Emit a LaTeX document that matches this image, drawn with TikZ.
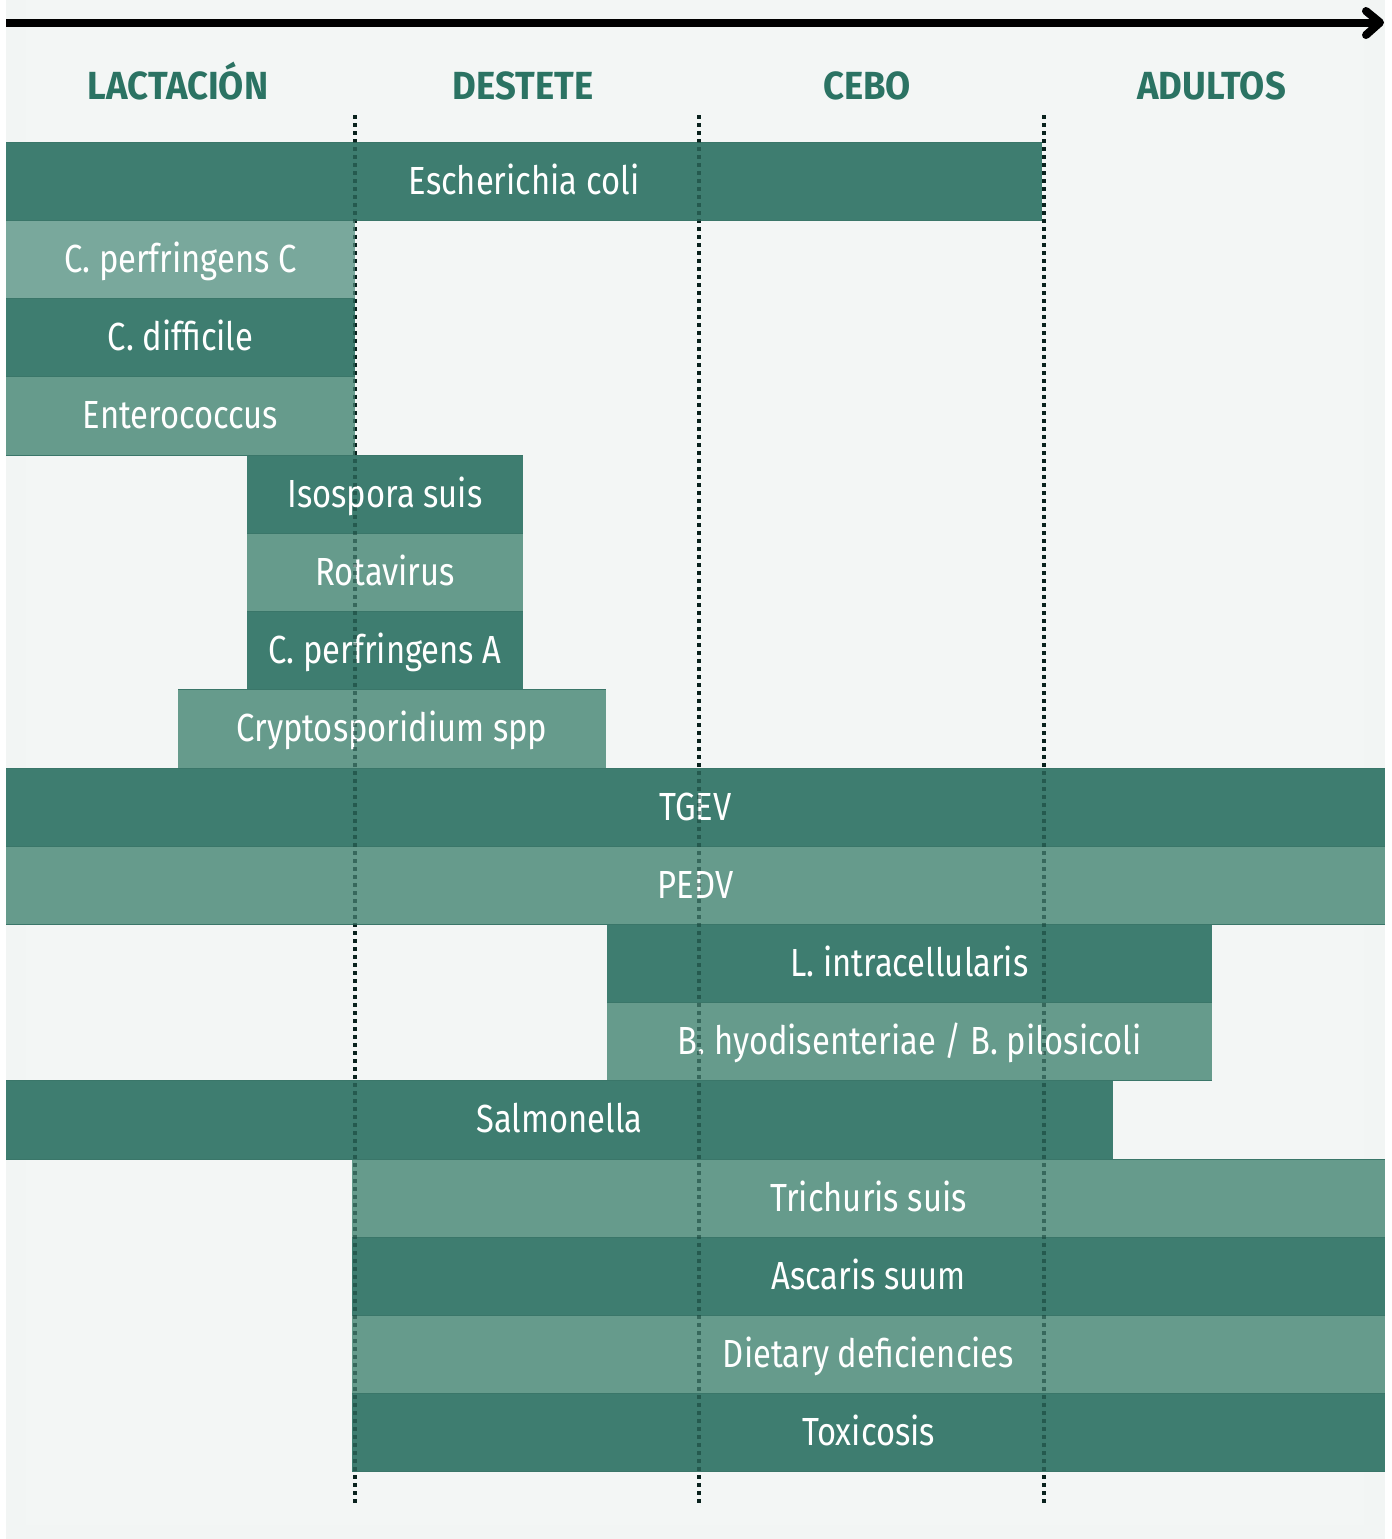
\documentclass[tikz,border=0pt]{standalone}
\usepackage{fontspec}
\newfontfamily\bodyf{Fira Sans}[FakeStretch=0.835]
\newfontfamily\hdrf{Fira Sans}[FakeStretch=0.93]
\definecolor{bgcol}{HTML}{F2F5F4}
\definecolor{bgin}{HTML}{F3F6F5}
\definecolor{dkgreen}{HTML}{3E7D70}
\definecolor{mdgreen}{HTML}{669B8C}
\definecolor{ltgreen}{HTML}{79A89C}
\definecolor{bordercol}{HTML}{3A7669}
\definecolor{hdrcol}{HTML}{2B7363}
\definecolor{dotover}{HTML}{123F35}
\newcommand\dzbar[7]{%
  \node[#6, minimum width={0.5pt*(#4-#2)}, minimum height={0.5pt*(#5-#3)}] (#1) at ({(#2+#4)/2},{(#3+#5)/2}) {#7};
  \draw[rowline] (#1.north west) -- (#1.north east) (#1.south west) -- (#1.south east);}
\tikzset{
  barbase/.style={draw=none, inner sep=0pt, outer sep=0pt, text=white,
    font=\bodyf\fontsize{19.6}{24}\selectfont, text height=17pt, text depth=4pt},
  darkbar/.style={barbase, fill=dkgreen},
  midbar/.style={barbase, fill=mdgreen},
  lightbar/.style={barbase, fill=ltgreen},
  rowline/.style={draw=bordercol, line width=0.4pt},
  hdr/.style={anchor=base, inner sep=0pt, text=hdrcol, font=\hdrf\bfseries\fontsize{19.6}{24}\selectfont},
  dotline/.style={line width=2pt, dash pattern=on 2pt off 2pt},
  axisline/.style={line width=4pt},
}
\begin{document}
\begin{tikzpicture}[x=0.5pt,y=-0.5pt]
\useasboundingbox (0,0) rectangle (1392,1539);
\fill[white] (0,0) rectangle (1392,1539);
\fill[bgcol] (6,0) rectangle (1385,1539);
\fill[bgin] (26,0) rectangle (1364,1525);
% time axis
\coordinate (axL) at (6,22.5);
\coordinate (axR) at (1380,22.5);
\coordinate (chT) at (1366,11);
\coordinate (chB) at (1366,35);
\draw[axisline] (axL) -- (axR);
\draw[axisline, line cap=round, line join=round] (chT) -- (axR) -- (chB);
% headers
\node[hdr] (hLac) at (178,99) {LACTACIÓN};
\node[hdr] (hDes) at (523,99) {DESTETE};
\node[hdr] (hCeb) at (867,99) {CEBO};
\node[hdr] (hAdu) at (1211.5,99) {ADULTOS};
% dotted separators (under)
\coordinate (d1t) at (354.5,115); \coordinate (d1b) at (354.5,1503);
\coordinate (d2t) at (699,115);   \coordinate (d2b) at (699,1503);
\coordinate (d3t) at (1043.5,115); \coordinate (d3b) at (1043.5,1503);
\draw[dotline] (d1t) -- (d1b);
\draw[dotline] (d2t) -- (d2b);
\draw[dotline] (d3t) -- (d3b);
% bars
\dzbar{ecoli}{6}{142}{1042}{220}{darkbar}{Escherichia coli}
\dzbar{cpc}{6}{220}{355}{298}{lightbar}{C. perfringens C}
\dzbar{cdiff}{6}{298}{355}{376}{darkbar}{C. difficile}
\dzbar{entero}{6}{376}{355}{455}{midbar}{Enterococcus}
\dzbar{iso}{247}{455}{523}{533}{darkbar}{Isospora suis}
\dzbar{rota}{247}{533}{523}{611}{midbar}{Rotavirus}
\dzbar{cpa}{247}{611}{523}{689}{darkbar}{C. perfringens A}
\dzbar{crypto}{178}{689}{606}{768}{midbar}{Cryptosporidium spp}
\dzbar{tgev}{6}{768}{1385}{846}{darkbar}{TGEV}
\dzbar{pedv}{6}{846}{1385}{924}{midbar}{PEDV}
\dzbar{lint}{607}{924}{1212}{1002}{darkbar}{L. intracellularis}
\dzbar{bhyo}{607}{1002}{1212}{1080}{midbar}{B. hyodisenteriae / B. pilosicoli}
\dzbar{salm}{6}{1080}{1113}{1159}{darkbar}{Salmonella}
\dzbar{trich}{352}{1159}{1385}{1237}{midbar}{Trichuris suis}
\dzbar{asc}{352}{1237}{1385}{1315}{darkbar}{Ascaris suum}
\dzbar{diet}{352}{1315}{1385}{1393}{midbar}{Dietary deficiencies}
\dzbar{tox}{352}{1393}{1385}{1471}{darkbar}{Toxicosis}
% dotted separators (over)
\draw[dotline, draw=dotover, opacity=0.55] (d1t) -- (d1b);
\draw[dotline, draw=dotover, opacity=0.55] (d2t) -- (d2b);
\draw[dotline, draw=dotover, opacity=0.55] (d3t) -- (d3b);
\end{tikzpicture}
\end{document}
